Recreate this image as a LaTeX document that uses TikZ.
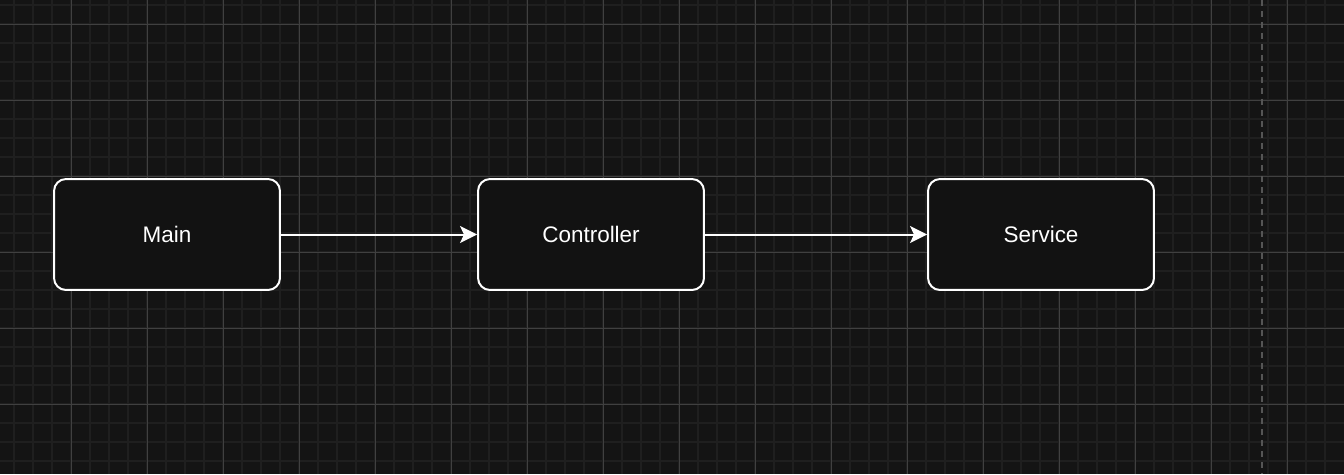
\documentclass[tikz,border=0pt]{standalone}
\usepackage{fontspec}
\setmainfont{Liberation Sans}
\usetikzlibrary{arrows.meta}

\definecolor{canvas}{RGB}{20,20,20}
\definecolor{minorline}{RGB}{31,31,31}
\definecolor{majorline}{RGB}{64,64,64}
\definecolor{edgeline}{RGB}{85,85,85}
\definecolor{boxfill}{RGB}{18,18,18}

\begin{document}
\begin{tikzpicture}[x=0.02cm, y=-0.02cm,
    box/.style={draw=white, line width=0.04cm, fill=boxfill, rounded corners=0.24cm,
        minimum width=4.52cm, minimum height=2.22cm, text=white,
        font=\fontsize{12.8}{15}\selectfont},
    link/.style={draw=white, line width=0.04cm,
        -{Stealth[length=0.34cm, width=0.34cm, inset=0.08cm]}}]
    % canvas and grid
    \useasboundingbox (0, 0) rectangle (1344, 474);
    \clip (0, 0) rectangle (1344, 474);
    \fill[canvas] (0, 0) rectangle (1344, 474);
    \foreach \i in {0,...,69}
        \draw[minorline, line width=0.04cm] ({14.3+19*\i}, 0) -- ({14.3+19*\i}, 474);
    \foreach \i in {0,...,24}
        \draw[minorline, line width=0.04cm] (0, {5.3+19*\i}) -- (1344, {5.3+19*\i});
    \foreach \i in {0,...,16}
        \draw[majorline, line width=0.02cm] ({71.3+76*\i}, 0) -- ({71.3+76*\i}, 474);
    \foreach \i in {0,...,5}
        \draw[majorline, line width=0.02cm] (0, {24.3+76*\i}) -- (1344, {24.3+76*\i});
    \draw[edgeline, line width=0.03cm, dash pattern=on 0.12cm off 0.1cm] (1262, 0) -- (1262, 474);

    \node[box] (main) at (167, 234.5) {Main};
    \node[box] (controller) at (591, 234.5) {Controller};
    \node[box] (service) at (1041, 234.5) {Service};

    \draw[link] (main) -- (controller);
    \draw[link] (controller) -- (service);
\end{tikzpicture}
\end{document}
